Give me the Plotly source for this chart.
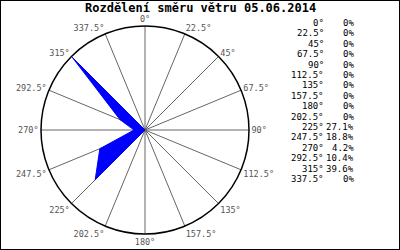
import plotly.graph_objects as go

directions = [0, 22.5, 45, 67.5, 90, 112.5, 135, 157.5, 180, 202.5, 225, 247.5, 270, 292.5, 315, 337.5]
dir_labels = ["0°", "22.5°", "45°", "67.5°", "90°", "112.5°", "135°", "157.5°", "180°",
              "202.5°", "225°", "247.5°", "270°", "292.5°", "315°", "337.5°"]
percent = [0, 0, 0, 0, 0, 0, 0, 0, 0, 0, 27.1, 18.8, 4.2, 10.4, 39.6, 0]
percent_labels = ["0%", "0%", "0%", "0%", "0%", "0%", "0%", "0%", "0%", "0%",
                  "27.1%", "18.8%", "4.2%", "10.4%", "39.6%", "0%"]
title = "Rozdělení směru větru 05.06.2014"

W, H = 400, 250
mono = "DejaVu Sans Mono"

fig = go.Figure()
fig.add_trace(go.Scatterpolar(
    r=percent + [percent[0]],
    theta=directions + [directions[0]],
    mode="lines",
    fill="toself",
    fillcolor="#0000ff",
    line=dict(color="#0000ff", width=1),
    hoverinfo="skip",
    showlegend=False,
))

cx, cy, R = 145, 130, 104
fig.update_layout(
    width=W, height=H,
    margin=dict(l=0, r=0, t=0, b=0),
    paper_bgcolor="white",
    plot_bgcolor="white",
    showlegend=False,
    polar=dict(
        domain=dict(x=[(cx - R) / W, (cx + R) / W], y=[(H - cy - R) / H, (H - cy + R) / H]),
        bgcolor="white",
        angularaxis=dict(
            rotation=90, direction="clockwise",
            tickmode="array", tickvals=directions, ticktext=dir_labels,
            tickfont=dict(family=mono, size=8.5, color="#555555"),
            showline=True, linecolor="black", linewidth=1.5,
            showgrid=True, gridcolor="#666666", gridwidth=1,
            ticks="",
        ),
        radialaxis=dict(
            range=[0, 40], showticklabels=False, showgrid=False,
            showline=False, ticks="",
        ),
    ),
    shapes=[dict(type="rect", xref="paper", yref="paper", x0=0, x1=1, y0=0, y1=1,
                 line=dict(color="black", width=2))],
)

annotations = [dict(text="<b>" + title + "</b>", x=0.5, y=1 - 8 / H, xref="paper", yref="paper",
                    showarrow=False, xanchor="center", yanchor="middle",
                    font=dict(family=mono, size=12, color="black"))]
y0, dy = 23, 10.4
for i, (d, p) in enumerate(zip(dir_labels, percent_labels)):
    yy = 1 - (y0 + i * dy) / H
    annotations.append(dict(text=d, x=326 / W, y=yy, xref="paper", yref="paper", showarrow=False,
                            xanchor="right", yanchor="middle",
                            font=dict(family=mono, size=9, color="black")))
    annotations.append(dict(text=p, x=356 / W, y=yy, xref="paper", yref="paper", showarrow=False,
                            xanchor="right", yanchor="middle",
                            font=dict(family=mono, size=9, color="black")))
fig.update_layout(annotations=annotations)

fig.write_html("out.html")
